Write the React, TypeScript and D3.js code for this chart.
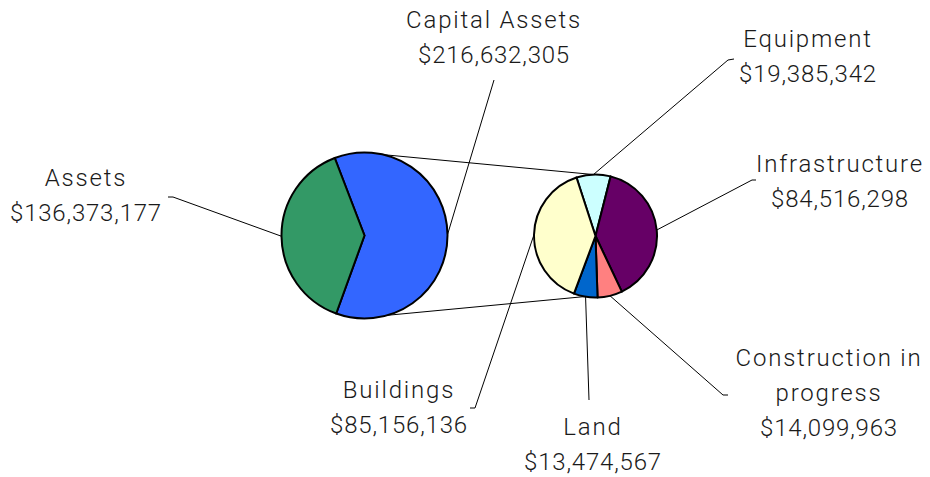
import React from 'react';
import * as d3 from 'd3';

// primary pie
const primaryNames = ['Capital Assets', 'Assets'];
const primaryValues = [216632305, 136373177];
const primaryColors = ['#3366FF', '#339966'];

// secondary pie (breakdown of Capital Assets)
const secondaryNames = ['Equipment', 'Infrastructure', 'Construction in progress', 'Land', 'Buildings'];
const secondaryValues = [19385342, 84516298, 14099963, 13474567, 85156136];
const secondaryColors = ['#CCFFFF', '#660066', '#FF8080', '#0066CC', '#FFFFCC'];

const W = 930;
const H = 477;
const deg = Math.PI / 180;

const P = { cx: 364.5, cy: 235.5, r: 83, start: -21 };
const S = { cx: 595.5, cy: 236, r: 61.5, start: -18 };

// label placement: text centre, first baseline, text lines, leader elbow points
type Lbl = { x: number; y: number; lines: string[]; leader: [number, number][] };
const primaryLbl: Lbl[] = [
  { x: 494, y: 28, lines: ['Capital Assets'], leader: [[494, 80]] },
  { x: 86, y: 186, lines: ['Assets'], leader: [[173, 197], [168, 197]] },
];
const secondaryLbl: Lbl[] = [
  { x: 808, y: 47, lines: ['Equipment'], leader: [[728, 60], [734, 59]] },
  { x: 840, y: 172, lines: ['Infrastructure'], leader: [[752, 180], [756, 180]] },
  { x: 829, y: 366, lines: ['Construction in', 'progress'], leader: [[723, 395], [728, 395]] },
  { x: 593, y: 435, lines: ['Land'], leader: [[589, 400]] },
  { x: 399, y: 398, lines: ['Buildings'], leader: [[475, 408], [470, 408]] },
];

const fmt = (v: number) => '$' + d3.format(',')(v);
const LH = 35;

function Pie({ c, values, colors, labels, names }: any) {
  const pie = d3.pie<number>().sort(null).startAngle(c.start * deg).endAngle((c.start + 360) * deg);
  const arcs = pie(values);
  const arc = d3.arc<d3.PieArcDatum<number>>().innerRadius(0).outerRadius(c.r);
  const edge = d3.arc<d3.PieArcDatum<number>>().innerRadius(c.r).outerRadius(c.r);
  return (
    <g>
      <g transform={`translate(${c.cx},${c.cy})`}>
        {arcs.map((a, i) => (
          <path key={i} d={arc(a) || ''} fill={colors[i]} stroke="#000" strokeWidth={2} strokeLinejoin="round" />
        ))}
      </g>
      {arcs.map((a, i) => {
        const [ex, ey] = edge.centroid(a);
        const pts: [number, number][] = [[c.cx + ex, c.cy + ey], ...labels[i].leader];
        return <path key={'l' + i} d={d3.line()(pts) || ''} fill="none" stroke="#000" strokeWidth={1} />;
      })}
      {labels.map((l: Lbl, i: number) => (
        <text key={'t' + i} x={l.x} y={l.y} textAnchor="middle" fill="#1a1a1a"
          style={{ fontFamily: 'Roboto, "DejaVu Sans", sans-serif', fontSize: 24, fontWeight: 300 }}>
          {l.lines.map((s, j) => (
            <tspan key={j} x={l.x} y={l.y + j * LH} style={{ letterSpacing: '1.8px' }}>{s}</tspan>
          ))}
          <tspan x={l.x} y={l.y + l.lines.length * LH} style={{ letterSpacing: '0.8px' }}>{fmt(values[i])}</tspan>
        </text>
      ))}
    </g>
  );
}

export default function App() {
  const pt = (c: any, a: number): [number, number] => [c.cx + c.r * Math.sin(a * deg), c.cy - c.r * Math.cos(a * deg)];
  // connector lines between the two pies
  const top = d3.line()([pt(P, 13), pt(S, -2)]) || '';
  const bottom = d3.line()([pt(P, 164), pt(S, 190)]) || '';
  return (
    <svg width={W} height={H} style={{ position: 'absolute', left: 0, top: 0, background: '#fff' }}>
      <path d={top} stroke="#000" strokeWidth={1} fill="none" />
      <path d={bottom} stroke="#000" strokeWidth={1} fill="none" />
      <Pie c={P} values={primaryValues} colors={primaryColors} labels={primaryLbl} names={primaryNames} />
      <Pie c={S} values={secondaryValues} colors={secondaryColors} labels={secondaryLbl} names={secondaryNames} />
    </svg>
  );
}
